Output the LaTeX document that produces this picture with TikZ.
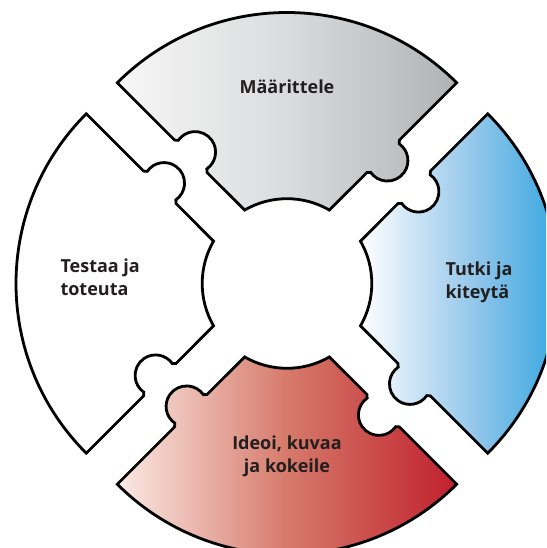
\documentclass[tikz,border=0pt]{standalone}
\usepackage{fontspec}
\setmainfont{Open Sans}
\usepackage{xcolor}
\usetikzlibrary{calc}
\definecolor{grayL}{RGB}{247,247,247}
\definecolor{grayM}{RGB}{218,219,220}
\definecolor{grayR}{RGB}{176,178,180}
\definecolor{blueM}{RGB}{150,200,235}
\definecolor{blueR}{RGB}{30,158,220}
\definecolor{redL}{RGB}{251,234,229}
\definecolor{redM}{RGB}{214,122,106}
\definecolor{redR}{RGB}{192,32,45}
\definecolor{txt}{RGB}{35,31,32}

\begin{document}
\begin{tikzpicture}[x=1pt,y=1pt]
\useasboundingbox (-287,-264.5) rectangle (259,283.5);
\clip (-287,-264.5) rectangle (259,283.5);
\fill[white] (-287,-264.5) rectangle (259,283.5);
\foreach \ang/\lc/\mc/\rc in {0/grayL/grayM/grayR,90/white/white/white,180/redL/redM/redR,270/white/blueM/blueR}{
\begin{scope}[rotate=\ang]
\shade[draw=black,line width=2.8pt,left color=\lc,right color=\rc,middle color=\mc]
  (120:84.8) -- ($(0,31)+(135:113)$)
  -- ($(0,31)+(135:136)+(45:6)+(-55:20.5)$) arc[start angle=-55,end angle=145,radius=20.5]
  -- ($(0,31)+(135:159)$) -- ($(0,31)+(135:240)$) arc[start angle=135,end angle=45,radius=240]
  -- ($(0,31)+(45:159)$)
  -- ($(0,31)+(45:136)+(-45:6)+(55:20.5)$) arc[start angle=55,end angle=-145,radius=20.5]
  -- ($(0,31)+(45:113)$) -- (60:84.8) arc[start angle=60,end angle=120,radius=84.8] -- cycle;
\end{scope}
}
\node (maar) [txt,font=\bfseries\fontsize{18}{23}\selectfont] at (0,196.5) {Määrittele};
\node (tutki) [txt,font=\bfseries\fontsize{18}{23}\selectfont,align=left,anchor=west] at (155,1) {Tutki ja\\kiteytä};
\node (ideoi) [txt,font=\bfseries\fontsize{18}{23}\selectfont,align=center] at (0,-172.5) {Ideoi, kuvaa\\ja kokeile};
\node (testaa) [txt,font=\bfseries\fontsize{18}{23}\selectfont,align=left,anchor=west] at (-230,6.5) {Testaa ja\\toteuta};
\end{tikzpicture}
\end{document}
